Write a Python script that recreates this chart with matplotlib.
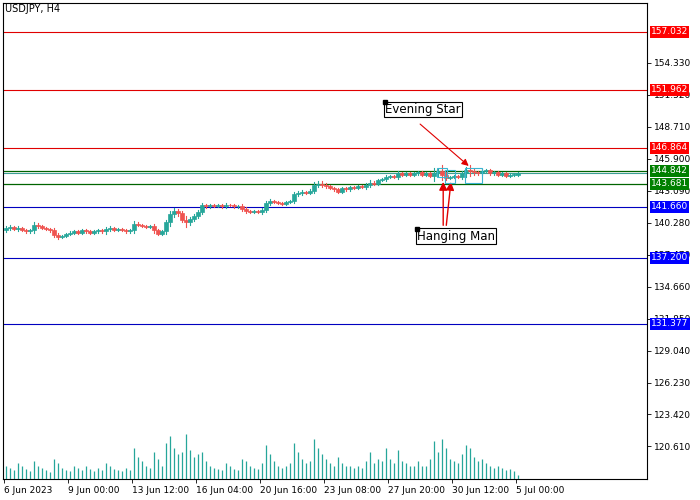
import matplotlib

matplotlib.use("Agg")
import matplotlib.pyplot as plt
from matplotlib.patches import Rectangle
from matplotlib.transforms import blended_transform_factory

# H4 closes (one per candle)
closes = [
    139.8, 139.9, 139.7, 139.8, 139.6, 139.5, 139.6,
    140.1, 140.0, 139.8, 139.7, 139.6,
    139.2, 139.0, 139.1, 139.3, 139.4,
    139.5, 139.4, 139.6, 139.5, 139.4, 139.5, 139.6, 139.5, 139.7, 139.8, 139.6, 139.7, 139.6, 139.5, 139.6,
    140.2, 140.1, 140.0, 139.9, 140.0,
    139.6, 139.3, 139.5,
    140.3, 141.0, 141.3, 141.1,
    140.5, 140.3, 140.6, 140.9, 141.2,
    141.8, 141.7, 141.8, 141.75, 141.8, 141.7, 141.85, 141.8, 141.7, 141.75,
    141.5, 141.3, 141.2, 141.3, 141.2, 141.4,
    142.0, 142.2, 142.1, 142.0, 141.9, 142.1, 142.2,
    142.8, 142.9, 143.0, 142.9, 143.1, 143.6, 143.7,
    143.6, 143.5, 143.3, 143.2, 143.0, 143.3, 143.2, 143.4, 143.3, 143.5, 143.4, 143.6,
    143.8, 143.7, 144.0, 144.1, 144.3, 144.4, 144.3,
    144.6, 144.5, 144.6, 144.5, 144.6, 144.7, 144.5, 144.6, 144.4, 144.6, 144.8, 144.5, 144.2,
    144.3, 144.4, 144.3, 144.6, 144.9, 144.8,
    144.7, 144.6, 144.8, 144.9, 144.6, 144.7, 144.5, 144.6, 144.4, 144.5, 144.5, 144.6,
]
first_open = 139.6
# wick length beyond the body, per candle
wicks = [
    0.15, 0.2, 0.1, 0.15, 0.1, 0.15, 0.1, 0.2, 0.15, 0.1, 0.1, 0.15, 0.2, 0.15, 0.1, 0.1, 0.15,
    0.1, 0.15, 0.1, 0.1, 0.15, 0.1, 0.1, 0.1, 0.2, 0.15, 0.1, 0.1, 0.1, 0.15, 0.1,
    0.2, 0.15, 0.1, 0.1, 0.1, 0.2, 0.15, 0.1, 0.2, 0.3, 0.25, 0.2, 0.2, 0.4, 0.2, 0.15, 0.2,
    0.2, 0.1, 0.1, 0.1, 0.1, 0.1, 0.15, 0.1, 0.1, 0.1, 0.2, 0.15, 0.1, 0.1, 0.1, 0.15,
    0.2, 0.15, 0.1, 0.1, 0.1, 0.1, 0.1, 0.2, 0.15, 0.15, 0.1, 0.1, 0.25, 0.2,
    0.2, 0.15, 0.1, 0.1, 0.15, 0.1, 0.1, 0.1, 0.1, 0.1, 0.1, 0.15, 0.2, 0.1, 0.15, 0.1, 0.2, 0.1, 0.1,
    0.2, 0.1, 0.1, 0.1, 0.1, 0.15, 0.1, 0.1, 0.15, 0.5, 0.2, 0.5, 0.2,
    0.1, 0.1, 0.1, 0.2, 0.3, 0.4, 0.2, 0.1, 0.15, 0.1, 0.1, 0.1, 0.1, 0.1, 0.1, 0.1, 0.1, 0.1,
]
volumes = [
    30, 25, 20, 35, 28, 22, 18, 40, 30, 25, 20, 15, 45, 35, 25, 20, 18,
    30, 25, 20, 28, 22, 18, 25, 20, 35, 30, 22, 20, 18, 25, 20,
    70, 50, 40, 30, 25, 60, 45, 30, 80, 95, 70, 55, 60, 100, 65, 50, 55,
    60, 40, 30, 25, 22, 20, 35, 28, 22, 20, 45, 40, 30, 25, 22, 35,
    75, 55, 40, 30, 25, 28, 35, 80, 60, 45, 35, 40, 90, 70,
    55, 45, 35, 30, 50, 35, 30, 28, 25, 30, 25, 40, 60, 35, 45, 40, 70, 45, 35,
    65, 40, 35, 30, 30, 40, 30, 28, 45, 85, 60, 90, 70,
    45, 40, 35, 55, 75, 70, 50, 40, 45, 35, 30, 25, 30, 25, 20, 22, 18, 10,
]

red_levels = [157.032, 151.962, 146.864]
green_levels = [144.842, 143.681]
bid_level = 144.62
blue_levels = [141.660, 137.200, 131.377]
tick_prices = [154.330, 151.520, 148.710, 145.900, 143.090, 140.280, 137.470,
               134.660, 131.850, 129.040, 126.230, 123.420, 120.610]
time_labels = ["6 Jun 2023", "9 Jun 00:00", "13 Jun 12:00", "16 Jun 04:00", "20 Jun 16:00",
               "23 Jun 08:00", "27 Jun 20:00", "30 Jun 12:00", "5 Jul 00:00"]
time_label_idx = [-0.5, 15.5, 31.5, 47.5, 63.5, 79.5, 95.5, 111.5, 127.5]

plt.rcParams["font.family"] = ["DejaVu Sans"]
fig = plt.figure(figsize=(7, 5), dpi=100)
ax = fig.add_axes([3 / 700, 21 / 500, 644 / 700, 476 / 500])
ax.set_xlim(-0.75, 160.25)
ax.set_ylim(117.75, 159.58)

bull, bear = "#26a69a", "#ef5350"
opens = [first_open] + closes[:-1]
for i, (o, c, w) in enumerate(zip(opens, closes, wicks)):
    col = bull if c >= o else bear
    lo, hi = min(o, c), max(o, c)
    ax.plot([i, i], [lo - w, hi + w], color=col, lw=0.8, zorder=3)
    ax.add_patch(Rectangle((i - 0.38, lo), 0.76, max(hi - lo, 0.04),
                           facecolor=col, edgecolor=col, lw=0.5, zorder=4))

# volumes on their own scale at the bottom
vax = fig.add_axes(ax.get_position(), frameon=False)
vax.set_xlim(ax.get_xlim())
vax.set_ylim(0, 100 * 476 / 45)
vax.vlines(range(len(volumes)), 0, volumes, color="#26a69a", lw=0.9)
vax.set_xticks([])
vax.set_yticks([])

yt = blended_transform_factory(ax.transAxes, ax.transData)


def level_label(lv, face):
    ax.text(1.006, lv, f"{lv:.3f}", transform=yt, fontsize=6.5, color="white", va="center",
            bbox=dict(boxstyle="square,pad=0.15", fc=face, ec="none"), zorder=10)


for lv in red_levels:
    ax.axhline(lv, color="#e00000", lw=0.8)
    level_label(lv, "#ff0000")
for lv in green_levels:
    ax.axhline(lv, color="#006400", lw=0.9)
    level_label(lv, "#008000")
ax.axhline(bid_level, color="#3c9f95", lw=0.8)
for lv in blue_levels:
    ax.axhline(lv, color="#0000c0", lw=0.8)
    level_label(lv, "#0000ff")

ax.yaxis.tick_right()
ax.set_yticks(tick_prices)
ax.set_yticklabels([f"{p:.3f}" for p in tick_prices], fontsize=6.5)
ax.tick_params(axis="y", length=3, pad=2, width=0.6)
ax.set_xticks(time_label_idx)
ax.set_xticklabels(time_labels, fontsize=6.5, ha="left")
ax.tick_params(axis="x", length=3, pad=2, width=0.6)
for s in ax.spines.values():
    s.set_linewidth(0.8)

# pattern boxes
for x0, x1, y0, y1 in [(107.8, 110.2, 144.3, 145.1), (109.8, 112.2, 143.8, 144.9),
                       (114.8, 119.0, 143.8, 145.1)]:
    ax.add_patch(Rectangle((x0, y0), x1 - x0, y1 - y0, fill=False, ec="#3cb4d0", lw=0.8, zorder=6))

box = dict(boxstyle="square,pad=0.1", fc="white", ec="black", lw=0.8)
ax.text(94.7, 150.2, "Evening Star", fontsize=8.5, bbox=box, va="center", zorder=8)
ax.plot([94.7], [150.85], "s", color="black", ms=3, zorder=9)
ax.annotate("", xy=(116.2, 145.1), xytext=(103.0, 149.1),
            arrowprops=dict(arrowstyle="-|>", color="#e00000", lw=0.8, mutation_scale=10))
ax.text(102.7, 139.1, "Hanging Man", fontsize=8.5, bbox=box, va="center", zorder=8)
ax.plot([102.7], [139.75], "s", color="black", ms=3, zorder=9)
for tx, hx in [(109.3, 109.3), (110.0, 111.3)]:
    ax.annotate("", xy=(hx, 144.1), xytext=(tx, 139.8),
                arrowprops=dict(arrowstyle="-|>", color="#e00000", lw=1.0, mutation_scale=12))

fig.text(5 / 700, 1 - 12 / 500, "USDJPY, H4", fontsize=7)
fig.savefig("out.png", dpi=100)
